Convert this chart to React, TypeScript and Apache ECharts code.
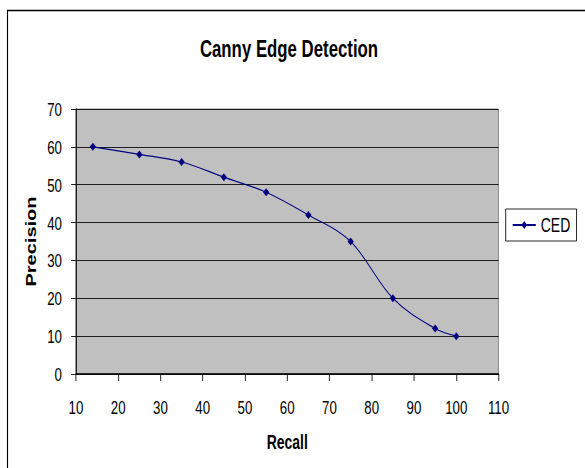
import React, { useEffect, useRef } from "react";
import * as echarts from "echarts";

const seriesName = "CED";
const recall = [14, 25, 35, 45, 55, 65, 75, 85, 95, 100];
const precision = [60, 58, 56, 52, 48, 42, 35, 20, 12, 10];
const titleText = "Canny Edge Detection";
const xName = "Recall";
const yName = "Precision";

const R = 0.7; // horizontal compression of the reference picture
const W = Math.round(585 / R);
const H = 468;
const FONT = "'Liberation Sans', Arial, sans-serif";

export default function App() {
  const ref = useRef<HTMLDivElement>(null);
  useEffect(() => {
    if (!ref.current) return;
    const chart = echarts.init(ref.current, undefined, { renderer: "svg" });
    const sx = (x: number) => x / R;
    const gridLeft = sx(76);
    const gridRight = W - sx(498.5);
    chart.setOption({
      animation: false,
      backgroundColor: "#ffffff",
      title: {
        text: titleText,
        left: sx(289),
        textAlign: "center",
        top: 36,
        padding: 0,
        textStyle: { fontFamily: FONT, fontWeight: "bold", fontSize: 24, color: "#000" },
      },
      graphic: [
        {
          type: "rect",
          shape: { x: sx(7.5), y: 10.5, width: 2000, height: 2000 },
          style: { fill: "none", stroke: "#000", lineWidth: 1.6 },
          silent: true,
        },
      ],
      legend: {
        left: sx(505.7),
        top: 209,
        orient: "vertical",
        data: [seriesName],
        borderColor: "#000",
        borderWidth: 1,
        padding: [6, 9, 6, 9],
        itemWidth: 33,
        itemHeight: 10,
        textStyle: { fontFamily: FONT, fontSize: 20, color: "#000", padding: [0, 0, 0, 2] },
      },
      grid: {
        left: gridLeft,
        right: gridRight,
        top: 109,
        bottom: H - 374,
        show: true,
        backgroundColor: "#C0C0C0",
        borderColor: "#808080",
        borderWidth: 1,
      },
      xAxis: {
        type: "value",
        min: 10,
        max: 110,
        interval: 10,
        name: xName,
        nameLocation: "middle",
        nameGap: 58,
        nameTextStyle: { fontFamily: FONT, fontWeight: "bold", fontSize: 20, color: "#000" },
        axisLine: { show: true, onZero: false, lineStyle: { color: "#000", width: 1.5 } },
        axisTick: { show: true, length: 7, lineStyle: { color: "#000" } },
        axisLabel: { margin: 24, fontFamily: FONT, fontSize: 19, color: "#000" },
        splitLine: { show: false },
      },
      yAxis: {
        type: "value",
        min: 0,
        max: 70,
        interval: 10,
        name: yName,
        nameLocation: "middle",
        nameGap: 54,
        nameRotate: 90,
        nameTextStyle: { fontFamily: FONT, fontWeight: "bold", fontSize: 20, color: "#000" },
        axisLine: { show: true, lineStyle: { color: "#000", width: 1.5 } },
        axisTick: { show: true, length: 7, lineStyle: { color: "#000" } },
        axisLabel: { margin: 20, fontFamily: FONT, fontSize: 19, color: "#000" },
        splitLine: { show: true, lineStyle: { color: "#000", width: 1 } },
      },
      series: [
        {
          name: seriesName,
          type: "line",
          smooth: 0.35,
          data: recall.map((r, i) => [r, precision[i]]),
          symbol: "diamond",
          symbolSize: [9, 8],
          itemStyle: { color: "#000080" },
          lineStyle: { color: "#000080", width: 1.2 },
        },
      ],
    });
    return () => chart.dispose();
  }, []);
  return (
    <div
      style={{
        position: "fixed",
        left: 0,
        top: 0,
        width: 585,
        height: 468,
        overflow: "hidden",
        background: "#fff",
      }}
    >
      <div
        ref={ref}
        style={{ width: W, height: H, transform: `scaleX(${R})`, transformOrigin: "0 0" }}
      />
    </div>
  );
}
